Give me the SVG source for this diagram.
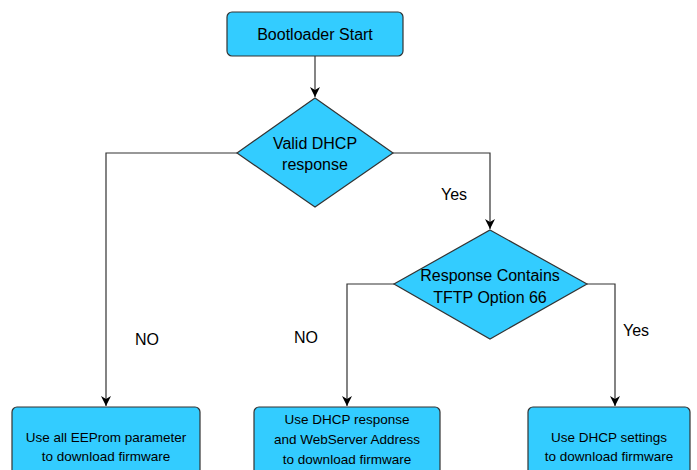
<svg xmlns="http://www.w3.org/2000/svg" width="697" height="470" viewBox="0 0 697 470">
<defs>
<marker id="ah" viewBox="0 0 10 10" refX="10" refY="5" markerWidth="10" markerHeight="10" markerUnits="userSpaceOnUse" orient="auto">
<path d="M0,0 L10,5 L0,10 L3,5 Z" fill="#000"/>
</marker>
<style>
.n{fill:#33CCFF;stroke:#333;stroke-width:1.2}
.t{font-family:"Liberation Sans",Arial,sans-serif;font-size:16px;fill:#000;text-anchor:middle}
.s{font-family:"Liberation Sans",Arial,sans-serif;font-size:13.5px;fill:#000;text-anchor:middle}
.c{fill:none;stroke:#333;stroke-width:1.2;marker-end:url(#ah)}
</style>
</defs>
<rect width="697" height="470" fill="#fff"/>
<g id="connectors">
<path class="c" d="M315,56 V97"/>
<path class="c" d="M237,153 H106 V406"/>
<path class="c" d="M393,153 H490 V229"/>
<path class="c" d="M394,284 H347 V406"/>
<path class="c" d="M587,284 H615 V406"/>
<text class="t" x="454" y="200">Yes</text>
<text class="t" x="147" y="345">NO</text>
<text class="t" x="306" y="343">NO</text>
<text class="t" x="636" y="336">Yes</text>
</g>
<g id="start">
<rect class="n" x="227" y="12" width="176" height="44" rx="5"/>
<text class="t" x="315" y="40">Bootloader Start</text>
</g>
<g id="dhcp">
<polygon class="n" points="315,98 393,153 315,207 237,153"/>
<text class="t" x="315" y="149">Valid DHCP</text>
<text class="t" x="315" y="170">response</text>
</g>
<g id="opt66">
<polygon class="n" points="490,230 587,284 490,339 394,284"/>
<text class="t" x="490" y="281">Response Contains</text>
<text class="t" x="490" y="303">TFTP Option 66</text>
</g>
<g id="eeprom">
<rect class="n" x="12" y="407" width="188" height="80" rx="5"/>
<text class="s" x="106" y="442">Use all EEProm parameter</text>
<text class="s" x="106" y="461">to download firmware</text>
</g>
<g id="webserver">
<rect class="n" x="254" y="407" width="186" height="80" rx="5"/>
<text class="s" x="347" y="424">Use DHCP response</text>
<text class="s" x="347" y="444">and WebServer Address</text>
<text class="s" x="347" y="464">to download firmware</text>
</g>
<g id="dhcpsettings">
<rect class="n" x="528" y="407" width="162" height="80" rx="5"/>
<text class="s" x="609" y="442">Use DHCP settings</text>
<text class="s" x="609" y="461">to download firmware</text>
</g>
</svg>
